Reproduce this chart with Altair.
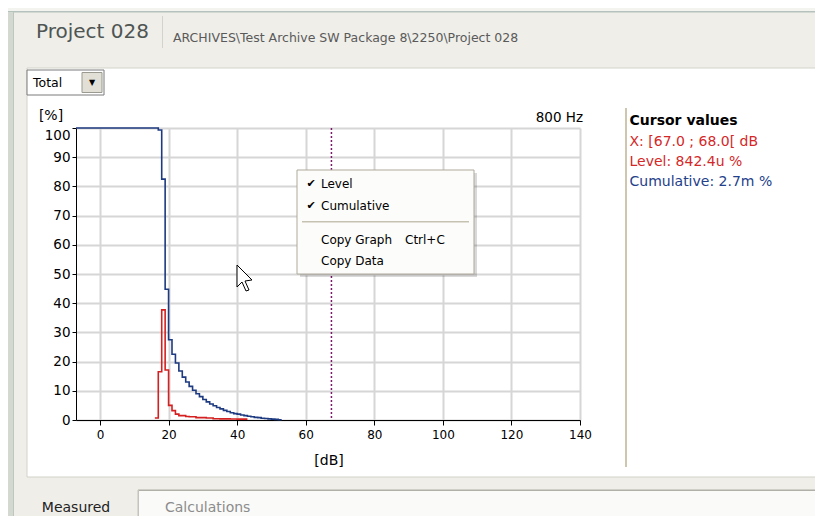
import altair as alt
import pandas as pd

# ---------------- data ----------------
# Cumulative distribution (blue), 1 dB bins, value held until next edge
cum_db = [-7, 17, 18, 19, 20, 21, 22, 23, 24, 25, 26, 27, 28, 29, 30, 31, 32, 33, 34, 35,
          36, 37, 38, 39, 40, 41, 42, 43, 44, 45, 46, 47, 48, 49, 50, 51, 52, 53]
cum_pct = [100, 99.3, 82.5, 44.8, 27.5, 22.5, 19.5, 16.8, 14.7, 13.0, 11.5, 10.2, 9.0, 8.0,
           7.0, 6.2, 5.5, 4.9, 4.3, 3.8, 3.3, 2.9, 2.5, 2.2, 2.0, 1.7, 1.5, 1.3, 1.1, 0.9,
           0.8, 0.6, 0.5, 0.4, 0.3, 0.2, 0.1, 0.1]

# Level distribution (red)
lvl_db = [16, 17, 18, 19, 20, 21, 22, 23, 24, 25, 26, 27, 28, 29, 30, 31, 32, 33, 34, 35,
          36, 37, 38, 39, 40, 41, 42, 43]
lvl_pct = [0.7, 16.5, 37.7, 17.1, 5.0, 3.2, 2.0, 1.5, 1.5, 1.2, 1.1, 1.1, 0.8, 0.8, 0.8,
           0.7, 0.7, 0.45, 0.45, 0.4, 0.4, 0.4, 0.35, 0.35, 0.3, 0.3, 0.3, 0.3]

cursor_db = [67.5]

x_ticks = [0, 20, 40, 60, 80, 100, 120, 140]
y_ticks = [0, 10, 20, 30, 40, 50, 60, 70, 80, 90, 100]

title_text = "Project 028"
path_text = "ARCHIVES\\Test Archive SW Package 8\\2250\\Project 028"
freq_text = "800 Hz"
cursor_lines = ["X: [67.0 ; 68.0[ dB", "Level: 842.4u %", "Cumulative: 2.7m %"]
menu_items = ["Level", "Cumulative", "Copy Graph", "Copy Data"]

# ---------------- layout helpers (page pixel -> plot coords) ----------------
OX, OY = 76, 128
FONT = "DejaVu Sans"
blank = pd.DataFrame({"k": [0]})


def vx(px):
    return px - OX


def vy(py):
    return py - OY


def box(x1, y1, x2, y2, **kw):
    return alt.Chart(blank).mark_rect(**kw).encode(
        x=alt.value(vx(x1)), x2=alt.value(vx(x2)),
        y=alt.value(vy(y1)), y2=alt.value(vy(y2)))


def label(px, py, s, size=12, color="black", align="left", baseline="middle", weight="normal"):
    return alt.Chart(blank).mark_text(
        text=s, font=FONT, fontSize=size, color=color, align=align,
        baseline=baseline, fontWeight=weight).encode(x=alt.value(vx(px)), y=alt.value(vy(py)))


BG = "#EFEEE9"

# ---------------- window chrome ----------------
chrome = [
    box(0, 0, 830, 68, fill=BG),
    box(0, 0, 830, 11, fill="#F3F3EF"),
    box(0, 11, 830, 12.5, fill="#B5C1BC"),
    box(0, 68, 27, 540, fill=BG),
    box(817, 68, 830, 540, fill=BG),
    box(0, 477, 830, 540, fill=BG),
    box(0, 12, 13, 540, fill="#D3D8D1"),
    box(13, 12, 14, 540, fill="#BFC6C0"),
    box(27, 68, 817, 477, fillOpacity=0, stroke="#D2D2C9", strokeWidth=1),
    # tabs
    box(138, 490, 830, 540, fill="#FAFAF8"),
    box(138, 489.5, 830, 491, fill="#B0B0A8"),
    box(137.5, 490, 139, 540, fill="#C4C4BC"),
    label(76, 508, "Measured", size=14, color="#222222", align="center"),
    label(165, 508, "Calculations", size=14, color="#8C8C8C"),
    # title
    label(36, 38, title_text, size=20, color="#4E5553", baseline="alphabetic"),
    box(162, 16, 163, 48, fill="#D3D3CB"),
    label(173, 41.5, path_text, size=12.5, color="#5A5A5A", baseline="alphabetic"),
    # dropdown
    box(27, 70, 104, 95, fill="white", stroke="#7A7A7A", strokeWidth=1),
    box(82, 72.5, 102, 92.5, fill="#E2DFD6", stroke="#9A9A90", strokeWidth=1),
    label(33, 83, "Total", size=12.5),
    label(92, 83, "\u25BC", size=8, align="center"),
    # cursor values panel
    box(625, 108, 627, 467, fill="#CEC6AE"),
    label(629.5, 121, "Cursor values", size=14, weight="bold"),
    label(629.5, 142, cursor_lines[0], size=14, color="#D42828"),
    label(629.5, 162, cursor_lines[1], size=14, color="#D42828"),
    label(629.5, 182, cursor_lines[2], size=14, color="#23408A"),
    # axis texts
    label(51, 116, "[%]", size=14, align="center"),
    label(583, 118, freq_text, size=13.5, align="right"),
    label(329, 461, "[dB]", size=14, align="center"),
]

# ---------------- the chart ----------------
x_enc = alt.X("db:Q", scale=alt.Scale(domain=[-7, 140], nice=False, zero=False),
              axis=alt.Axis(values=x_ticks, title=None, grid=True, gridColor="#D6D6D6",
                            gridWidth=2, domainColor="black", tickColor="black", tickSize=5,
                            labelFont=FONT, labelFontSize=12, labelColor="black",
                            labelPadding=4, labelFlush=False, labelOverlap=False))
y_enc = alt.Y("pct:Q", scale=alt.Scale(domain=[0, 100], nice=False),
              axis=alt.Axis(values=y_ticks, title=None, grid=True, gridColor="#D6D6D6",
                            gridWidth=2, domainColor="black", tickColor="black", tickSize=4,
                            labelFont=FONT, labelFontSize=13.5, labelColor="black",
                            labelPadding=2, labelOverlap=False, labelFlush=False,
                            labelBaseline={"condition": {"test": "datum.value == 100",
                                                         "value": "top"},
                                           "value": "middle"}))

cum_df = pd.DataFrame({"db": cum_db, "pct": cum_pct})
lvl_df = pd.DataFrame({"db": lvl_db, "pct": lvl_pct})

cum_line = alt.Chart(cum_df).mark_line(interpolate="step-after", color="#1E3A80",
                                       strokeWidth=1.6).encode(x=x_enc, y=y_enc)
lvl_line = alt.Chart(lvl_df).mark_line(interpolate="step-after", color="#D42020",
                                       strokeWidth=1.6).encode(x=x_enc, y=y_enc)
cursor_rule = alt.Chart(pd.DataFrame({"db": cursor_db})).mark_rule(
    color="#7B1A6B", strokeDash=[2, 2], strokeWidth=1.5).encode(x=x_enc)

# ---------------- context menu & mouse pointer ----------------
menu = [
    box(300, 173, 477, 277, fill="black", opacity=0.15),
    box(297, 170, 474, 274, fill="#FCFCFA", stroke="#ADA99A", strokeWidth=1),
    label(311, 184, "\u2714", size=11, align="center"),
    label(311, 206, "\u2714", size=11, align="center"),
    label(321, 184, menu_items[0], size=12),
    label(321, 206, menu_items[1], size=12),
    box(302, 221, 469, 222.5, fill="#C5C2B2"),
    label(321, 240, menu_items[2], size=12),
    label(405, 240, "Ctrl+C", size=12),
    label(321, 261, menu_items[3], size=12),
]
arrow_path = ("M-0.5,-1 L-0.5,0.571 L-0.143,0.214 L0.143,0.857 L0.357,0.786 "
              "L0.071,0.143 L0.571,0.071 Z")
pointer = alt.Chart(blank).mark_point(shape=arrow_path, size=784, filled=True, fill="white",
                                      stroke="black", strokeWidth=1, opacity=1).encode(
    x=alt.value(vx(244)), y=alt.value(vy(279)))

chart = alt.layer(
    cum_line, lvl_line, cursor_rule, *chrome, *menu, pointer
).properties(
    width=504, height=292, background="white",
    padding={"left": 68, "top": 120, "right": 235, "bottom": 96},
    autosize=alt.AutoSizeParams(type="none"),
).configure_view(strokeWidth=0)

chart.save("out.html", embed_options={"renderer": "svg", "actions": False})
